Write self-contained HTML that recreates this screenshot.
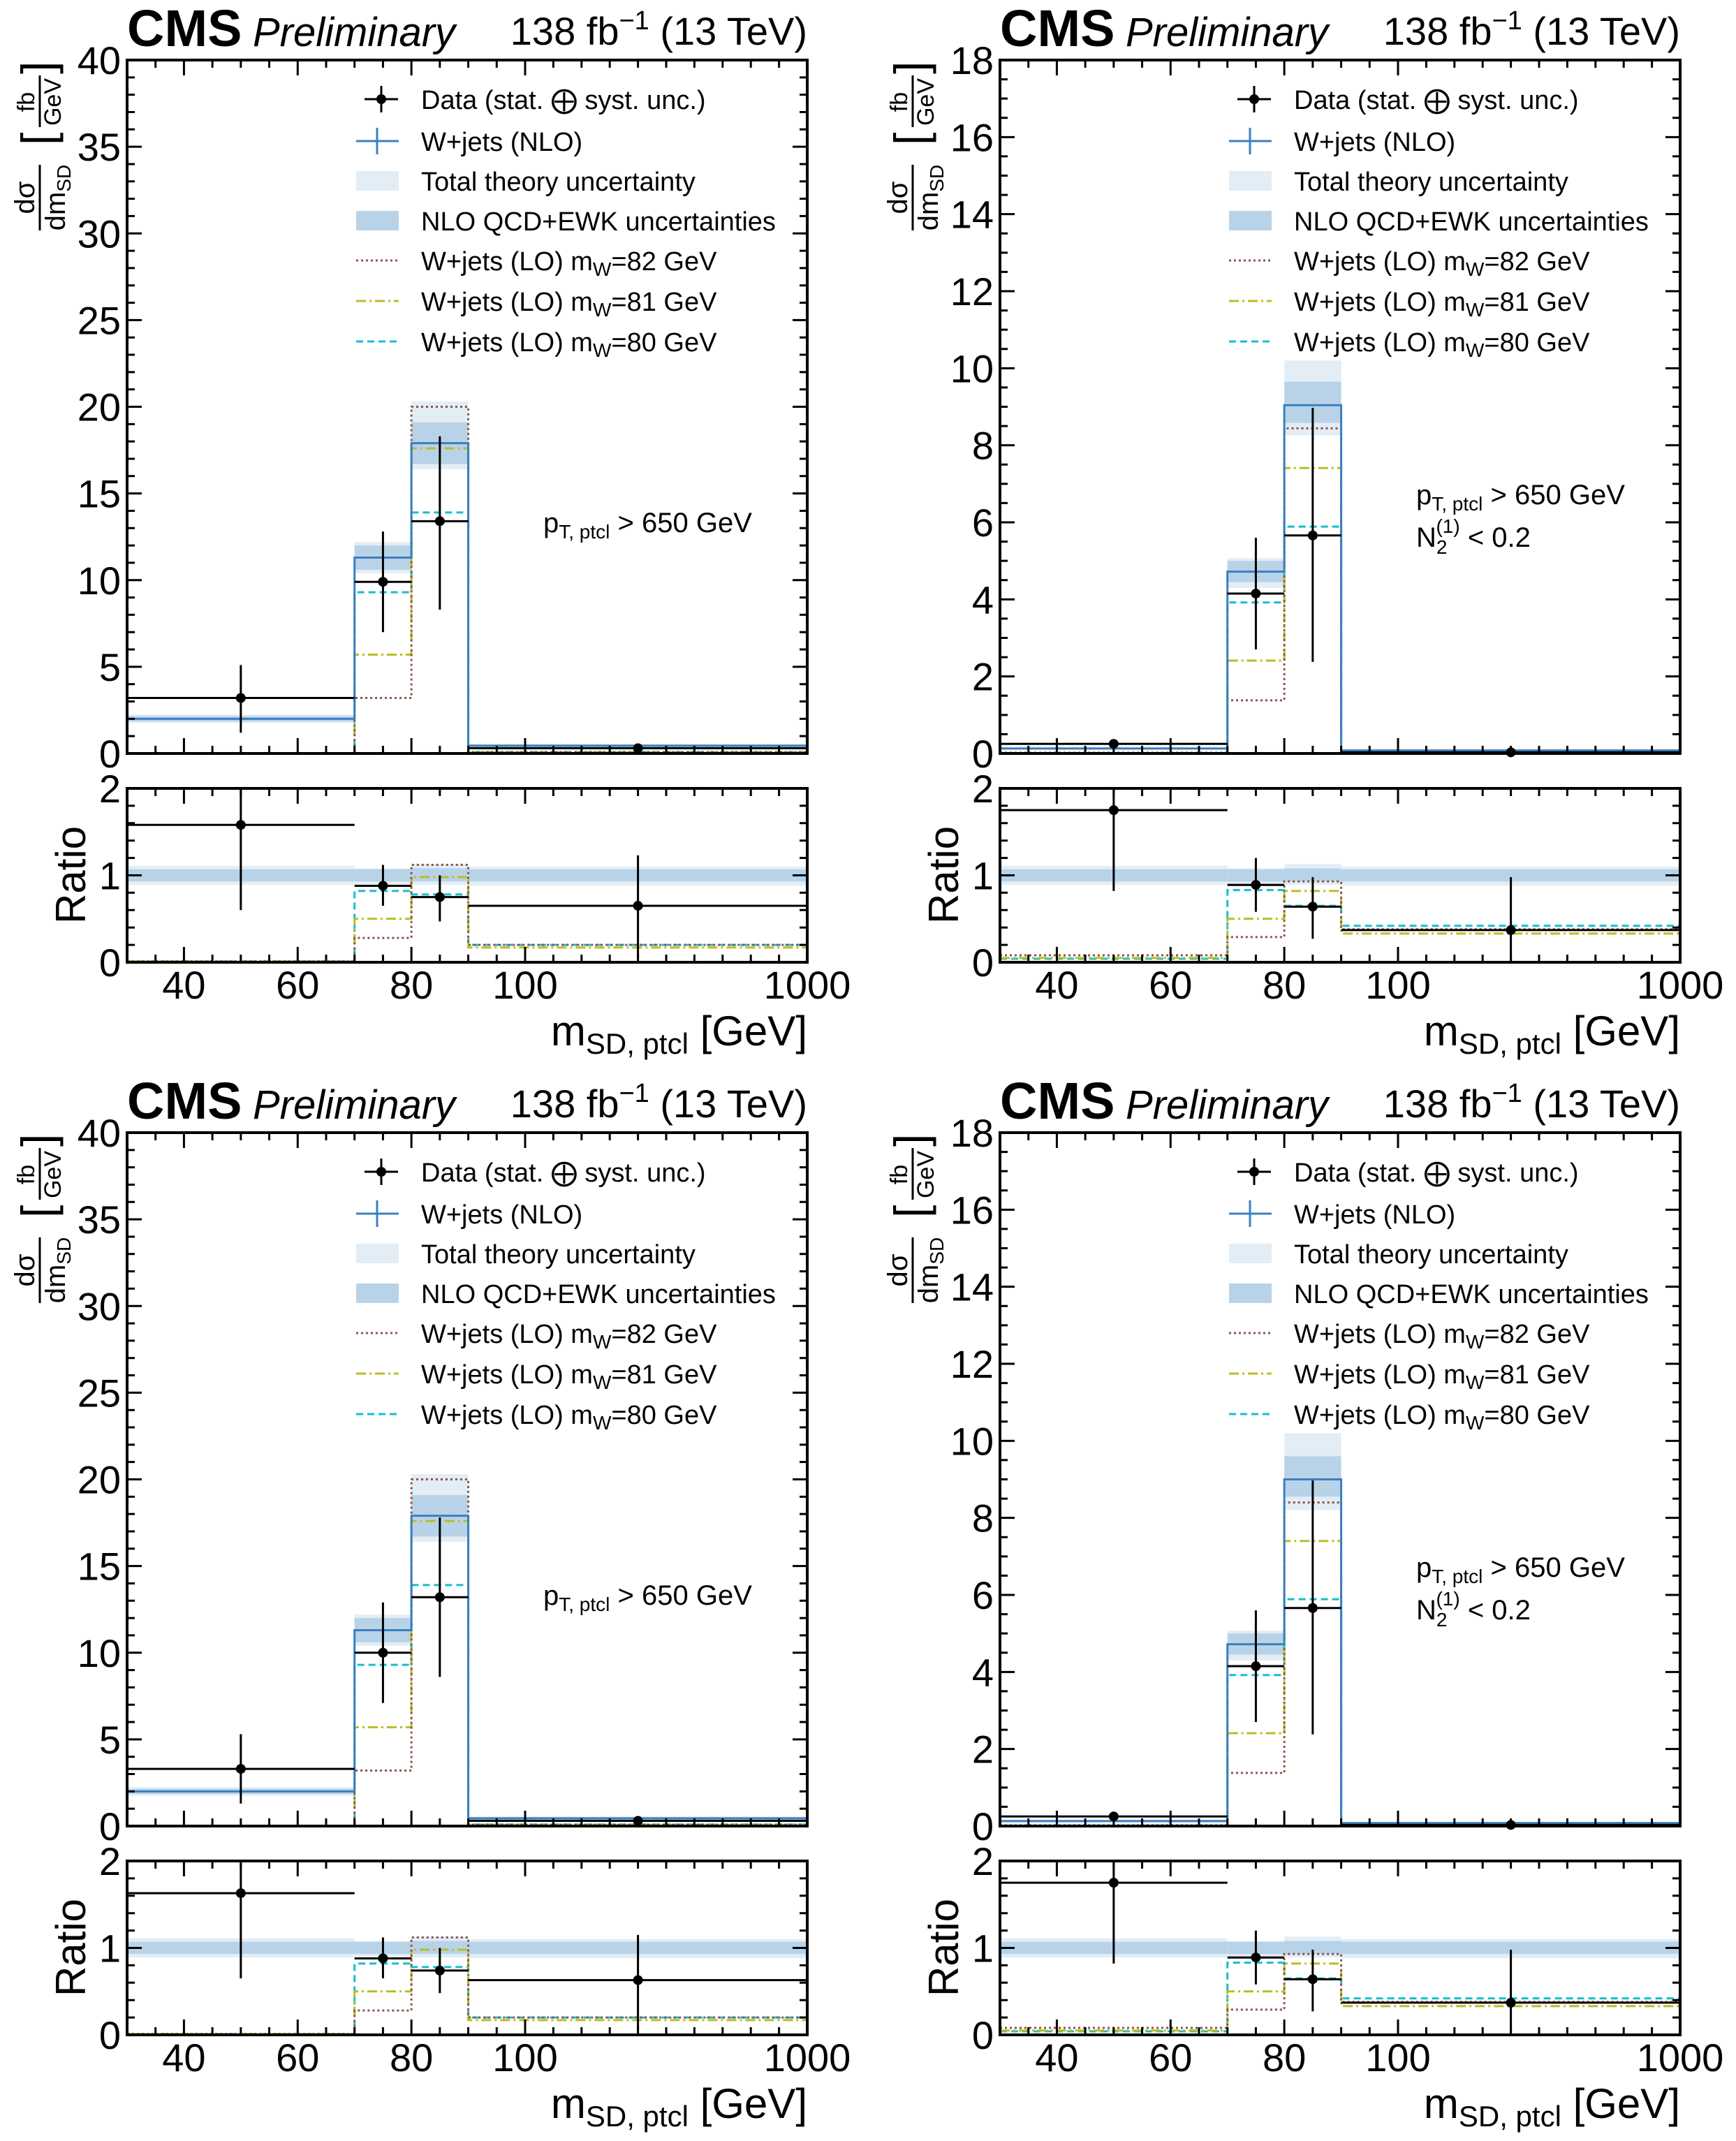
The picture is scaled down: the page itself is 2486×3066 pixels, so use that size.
<!DOCTYPE html>
<html><head><meta charset="utf-8">
<style>
html,body{margin:0;padding:0;background:#fff;}
svg{display:block;font-family:"Liberation Sans",Arial,sans-serif;}
</style></head>
<body>
<svg id="fig" xmlns="http://www.w3.org/2000/svg" width="2486" height="3066" viewBox="0 0 2486 3066"></svg>
<script>
// ---- shared binning ----
const binEdges = [30, 70, 80, 90, 1000];
const dataX = [50, 75, 85, 460];
const xTickVals = [40, 60, 80, 100, 1000];
const xTickLabels = ["40", "60", "80", "100", "1000"];

// ---- top-left panel ----
const tlNlo = [2.0, 11.3, 17.9, 0.45];
const tlTotLo = [1.75, 10.4, 16.4, 0.3];
const tlTotHi = [2.25, 12.2, 20.3, 0.55];
const tlQcdLo = [1.85, 10.6, 16.7, 0.35];
const tlQcdHi = [2.15, 12.0, 19.1, 0.5];
const tlLo82 = [0.02, 3.2, 20.0, 0.08];
const tlLo81 = [0.02, 5.7, 17.6, 0.07];
const tlLo80 = [0.02, 9.3, 13.9, 0.09];
const tlData = [3.2, 9.9, 13.4, 0.3];
const tlDataLo = [1.2, 7.0, 8.3, 0.2];
const tlDataHi = [5.1, 12.8, 18.3, 0.4];
const tlR = [1.58, 0.88, 0.75, 0.65];
const tlRLo = [0.6, 0.65, 0.47, 0.05];
const tlRHi = [2.0, 1.12, 1.0, 1.23];
const tlR82 = [0.01, 0.28, 1.12, 0.2];
const tlR81 = [0.01, 0.5, 0.98, 0.17];
const tlR80 = [0.01, 0.82, 0.78, 0.2];

// ---- top-right panel ----
const trNlo = [0.13, 4.72, 9.04, 0.08];
const trTotLo = [0.1, 4.3, 8.26, 0.05];
const trTotHi = [0.17, 5.07, 10.2, 0.1];
const trQcdLo = [0.11, 4.45, 8.58, 0.06];
const trQcdHi = [0.15, 5.0, 9.65, 0.09];
const trLo82 = [0.02, 1.38, 8.44, 0.03];
const trLo81 = [0.01, 2.41, 7.41, 0.025];
const trLo80 = [0.01, 3.92, 5.89, 0.03];
const trData = [0.25, 4.15, 5.66, 0.03];
const trDataLo = [0.2, 2.7, 2.38, 0.0];
const trDataHi = [0.3, 5.6, 8.97, 0.06];
const trR = [1.75, 0.89, 0.64, 0.37];
const trRLo = [0.82, 0.58, 0.27, 0.0];
const trRHi = [2.0, 1.2, 0.98, 0.98];
const trR82 = [0.08, 0.29, 0.93, 0.38];
const trR81 = [0.05, 0.5, 0.82, 0.33];
const trR80 = [0.04, 0.83, 0.65, 0.42];

// ---- bottom-left panel ----
const blNlo = [2.0, 11.3, 17.9, 0.45];
const blTotLo = [1.75, 10.4, 16.4, 0.3];
const blTotHi = [2.25, 12.2, 20.3, 0.55];
const blQcdLo = [1.85, 10.6, 16.7, 0.35];
const blQcdHi = [2.15, 12.0, 19.1, 0.5];
const blLo82 = [0.02, 3.2, 20.0, 0.08];
const blLo81 = [0.02, 5.7, 17.6, 0.07];
const blLo80 = [0.02, 9.3, 13.9, 0.09];
const blData = [3.3, 10.0, 13.2, 0.3];
const blDataLo = [1.3, 7.1, 8.6, 0.2];
const blDataHi = [5.3, 12.9, 17.8, 0.4];
const blR = [1.63, 0.88, 0.74, 0.63];
const blRLo = [0.65, 0.65, 0.48, 0.05];
const blRHi = [2.0, 1.12, 1.0, 1.15];
const blR82 = [0.01, 0.28, 1.12, 0.2];
const blR81 = [0.01, 0.5, 0.98, 0.17];
const blR80 = [0.01, 0.82, 0.78, 0.2];

// ---- bottom-right panel ----
const brNlo = [0.13, 4.72, 9.0, 0.08];
const brTotLo = [0.1, 4.3, 8.2, 0.05];
const brTotHi = [0.17, 5.07, 10.2, 0.1];
const brQcdLo = [0.11, 4.45, 8.55, 0.06];
const brQcdHi = [0.15, 5.0, 9.6, 0.09];
const brLo82 = [0.02, 1.38, 8.4, 0.03];
const brLo81 = [0.01, 2.41, 7.4, 0.025];
const brLo80 = [0.01, 3.92, 5.89, 0.03];
const brData = [0.25, 4.15, 5.66, 0.03];
const brDataLo = [0.2, 2.7, 2.38, 0.0];
const brDataHi = [0.3, 5.6, 8.97, 0.06];
const brR = [1.75, 0.89, 0.64, 0.37];
const brRLo = [0.82, 0.58, 0.27, 0.0];
const brRHi = [2.0, 1.2, 0.98, 0.98];
const brR82 = [0.08, 0.29, 0.93, 0.38];
const brR81 = [0.05, 0.5, 0.82, 0.33];
const brR80 = [0.04, 0.83, 0.65, 0.42];

// ratio bands (shared)
const rTotLo = [0.89, 0.9, 0.89, 0.88];
const rTotHi = [1.11, 1.08, 1.13, 1.1];
const rQcdLo = [0.93, 0.93, 0.93, 0.93];
const rQcdHi = [1.07, 1.07, 1.08, 1.07];

const NS = "http://www.w3.org/2000/svg";
const svg = document.getElementById("fig");
function mk(tag, attrs, parent) {
  const e = document.createElementNS(NS, tag);
  for (const k in attrs) e.setAttribute(k, attrs[k]);
  (parent || svg).appendChild(e);
  return e;
}
const C_NLO = "#3b7fbf", C_TOT = "#e3edf6", C_QCD = "#b8d3e8";
const C82 = "#8c564b", C81 = "#bcbd22", C80 = "#17becf";

function panel(ox, oy, d, ymax, ymajor, yminor, twoLine, key) {
  const L = ox + 182, R = ox + 1156, T = oy + 86, B = oy + 1079;
  const RT = oy + 1129, RB = oy + 1378;
  const g = mk("g", {});
  
  
  function xm(v) { return v <= 100 ? L + (v - 30) * (570 / 70) : L + 570 + (v - 100) / 900 * 404; }
  function ym(v) { return B - v * (B - T) / ymax; }
  function yr(v) { return RB - v * (RB - RT) / 2; }

  for (let i = 0; i < 4; i++) {
    const x0 = xm(binEdges[i]), x1 = xm(binEdges[i + 1]);
    const a = mk("rect", {x: x0, y: ym(d.totHi[i]), width: x1 - x0, height: ym(d.totLo[i]) - ym(d.totHi[i]), fill: C_TOT}, g);
    
    
    const b = mk("rect", {x: x0, y: ym(d.qcdHi[i]), width: x1 - x0, height: ym(d.qcdLo[i]) - ym(d.qcdHi[i]), fill: C_QCD}, g);
    
    
    const c = mk("rect", {x: x0, y: yr(rTotHi[i]), width: x1 - x0, height: yr(rTotLo[i]) - yr(rTotHi[i]), fill: C_TOT}, g);
    
    
    const e = mk("rect", {x: x0, y: yr(rQcdHi[i]), width: x1 - x0, height: yr(rQcdLo[i]) - yr(rQcdHi[i]), fill: C_QCD}, g);
    
    
  }
  function step(vals, map, color, dash, name) {
    let p = "M" + xm(binEdges[0]) + "," + map(vals[0]);
    for (let i = 0; i < 4; i++) {
      p += " L" + xm(binEdges[i + 1]) + "," + map(vals[i]);
      if (i < 3) p += " L" + xm(binEdges[i + 1]) + "," + map(vals[i + 1]);
    }
    const s = mk("path", {d: p, fill: "none", stroke: color, "stroke-width": 3, "stroke-dasharray": dash || "none"}, g);
    
    
  }
  step(d.lo80, ym, C80, "10,6", "lo-80-line");
  step(d.lo81, ym, C81, "14,5,3,5", "lo-81-line");
  step(d.lo82, ym, C82, "3,4", "lo-82-line");
  step(d.nlo, ym, C_NLO, null, "nlo-line");
  step(d.r80, yr, C80, "10,6", "ratio-lo-80-line");
  step(d.r81, yr, C81, "14,5,3,5", "ratio-lo-81-line");
  step(d.r82, yr, C82, "3,4", "ratio-lo-82-line");

  function points(vals, lo, hi, map, name) {
    for (let i = 0; i < 4; i++) {
      const cx = xm(dataX[i]);
      const h = mk("line", {x1: xm(binEdges[i]), x2: xm(binEdges[i + 1]), y1: map(vals[i]), y2: map(vals[i]), stroke: "#000", "stroke-width": 3}, g);
      
      
      const v = mk("line", {x1: cx, x2: cx, y1: map(Math.min(hi[i], 2.05 * (map === yr ? 1 : 100))), y2: map(lo[i]), stroke: "#000", "stroke-width": 3}, g);
      
      
      const c = mk("circle", {cx: cx, cy: map(vals[i]), r: 7, fill: "#000"}, g);
      
      
    }
  }
  points(d.data, d.dataLo, d.dataHi, ym, "data");
  points(d.r, d.rLo, d.rHi, yr, "ratio-data");

  function frame(top, bot, vmax, major, minor, map, nm) {
    const f = mk("rect", {x: L, y: top, width: R - L, height: bot - top, fill: "none", stroke: "#000", "stroke-width": 4}, g);
    
    
    let p = "";
    for (let v = 0; v <= vmax + 1e-9; v += minor) {
      const isMaj = Math.abs(v / major - Math.round(v / major)) < 1e-6;
      const len = isMaj ? 21 : 11, y = map(v);
      p += `M${L},${y}h${len}M${R},${y}h${-len}`;
      if (isMaj) {
        const t = mk("text", {x: L - 9, y: y + 20, "font-size": 56, "text-anchor": "end"}, g);
        
        
        t.textContent = String(Math.round(v * 10) / 10);
      }
    }
    for (let v = 35; v <= 100; v += 5) {
      const isMaj = v % 20 === 0;
      const len = isMaj ? 22 : 11, x = xm(v);
      p += `M${x},${bot}v${-len}M${x},${top}v${len}`;
    }
    for (let x = L + 570 + 40.4; x < R - 5; x += 40.4) p += `M${x},${bot}v-11M${x},${top}v11`;
    const tk = mk("path", {d: p, stroke: "#000", "stroke-width": 3, fill: "none"}, g);
    
    
  }
  frame(T, B, ymax, ymajor, yminor, ym, "main");
  frame(RT, RB, 2, 1, 0.2, yr, "ratio");

  for (let i = 0; i < xTickVals.length; i++) {
    const t = mk("text", {x: xm(xTickVals[i]), y: oy + 1430, "font-size": 56, "text-anchor": "middle"}, g);
    
    
    t.textContent = xTickLabels[i];
  }
  const xt = mk("text", {x: R, y: oy + 1497, "font-size": 60, "text-anchor": "end"}, g);
  
  
  xt.innerHTML = 'm<tspan font-size="42" dy="12">SD, ptcl</tspan><tspan dy="-12"> [GeV]</tspan>';
  const rt = mk("text", {transform: `translate(${ox + 122},${oy + 1253}) rotate(-90)`, "font-size": 60, "text-anchor": "middle"}, g);
  
  
  rt.textContent = "Ratio";
  const yg = mk("g", {transform: `translate(${ox + 55},${oy + 208}) rotate(-90)`, "font-size": 40}, g);
  
  
  mk("text", {x: -75, y: -6, "text-anchor": "middle"}, yg).textContent = "dσ";
  mk("line", {x1: -122, x2: -28, y1: 2, y2: 2, stroke: "#000", "stroke-width": 3}, yg);
  const dm = mk("text", {x: -75, y: 38, "text-anchor": "middle"}, yg);
  dm.innerHTML = 'dm<tspan font-size="28" dy="8">SD</tspan>';
  mk("text", {x: 0, y: 22, "font-size": 66}, yg).textContent = "[";
  mk("text", {x: 62, y: -6, "text-anchor": "middle", "font-size": 34}, yg).textContent = "fb";
  mk("line", {x1: 26, x2: 100, y1: 2, y2: 2, stroke: "#000", "stroke-width": 3}, yg);
  mk("text", {x: 62, y: 32, "text-anchor": "middle", "font-size": 34}, yg).textContent = "GeV";
  mk("text", {x: 102, y: 22, "font-size": 66}, yg).textContent = "]";

  const cms = mk("text", {x: ox + 182, y: oy + 66, "font-size": 74, "font-weight": "bold"}, g);
  
  
  cms.textContent = "CMS";
  const pre = mk("text", {x: ox + 362, y: oy + 66, "font-size": 58, "font-style": "italic"}, g);
  
  
  pre.textContent = "Preliminary";
  const lumi = mk("text", {x: ox + 1156, y: oy + 64, "font-size": 56, "text-anchor": "end"}, g);
  
  
  lumi.innerHTML = '138 fb<tspan font-size="38" dy="-22">−1</tspan><tspan dy="22"> (13 TeV)</tspan>';

  const an = mk("text", {x: ox + 778, y: oy + (twoLine ? 722 : 762), "font-size": 40}, g);
  
  
  an.innerHTML = 'p<tspan font-size="28" dy="9">T, ptcl</tspan><tspan dy="-9"> &gt; 650 GeV</tspan>';
  if (twoLine) {
    const an2 = mk("text", {x: ox + 778, y: oy + 783, "font-size": 40}, g);
    
    
    an2.innerHTML = 'N<tspan font-size="28" dy="10">2</tspan><tspan font-size="28" dx="-16" dy="-30">(1)</tspan><tspan dy="20"> &lt; 0.2</tspan>';
  }

  const lx = ox + 510, tx = ox + 603;
  const rows = [142, 202, 259, 316, 373, 431, 489];
  const labels = ['Data (stat. ⨁ syst. unc.)', 'W+jets (NLO)', 'Total theory uncertainty', 'NLO QCD+EWK uncertainties',
    'W+jets (LO) m<tspan font-size="28" dy="8">W</tspan><tspan dy="-8">=82 GeV</tspan>',
    'W+jets (LO) m<tspan font-size="28" dy="8">W</tspan><tspan dy="-8">=81 GeV</tspan>',
    'W+jets (LO) m<tspan font-size="28" dy="8">W</tspan><tspan dy="-8">=80 GeV</tspan>'];
  for (let i = 0; i < 7; i++) {
    const y = oy + rows[i];
    const lg = mk("g", {}, g);
    
    
    if (i === 0) {
      mk("line", {x1: lx + 12, x2: lx + 60, y1: y, y2: y, stroke: "#000", "stroke-width": 3}, lg);
      mk("line", {x1: lx + 36, x2: lx + 36, y1: y - 19, y2: y + 19, stroke: "#000", "stroke-width": 3}, lg);
      mk("circle", {cx: lx + 36, cy: y, r: 7, fill: "#000"}, lg);
    } else if (i === 1) {
      mk("line", {x1: lx, x2: lx + 61, y1: y, y2: y, stroke: C_NLO, "stroke-width": 3}, lg);
      mk("line", {x1: lx + 30, x2: lx + 30, y1: y - 19, y2: y + 19, stroke: C_NLO, "stroke-width": 3}, lg);
    } else if (i === 2) {
      mk("rect", {x: lx, y: y - 14, width: 61, height: 28, fill: C_TOT}, lg);
    } else if (i === 3) {
      mk("rect", {x: lx, y: y - 14, width: 61, height: 28, fill: C_QCD}, lg);
    } else {
      const col = [C82, C81, C80][i - 4], da = ["3,4", "14,5,3,5", "10,6"][i - 4];
      mk("line", {x1: lx, x2: lx + 61, y1: y, y2: y, stroke: col, "stroke-width": 3, "stroke-dasharray": da}, lg);
    }
    const t = mk("text", {x: tx, y: y + 14, "font-size": 38}, lg);
    t.innerHTML = labels[i];
  }
}

panel(0, 0, {nlo: tlNlo, totLo: tlTotLo, totHi: tlTotHi, qcdLo: tlQcdLo, qcdHi: tlQcdHi, lo82: tlLo82, lo81: tlLo81, lo80: tlLo80,
  data: tlData, dataLo: tlDataLo, dataHi: tlDataHi, r: tlR, rLo: tlRLo, rHi: tlRHi, r82: tlR82, r81: tlR81, r80: tlR80}, 40, 5, 1, false, "top-left");
panel(1250, 0, {nlo: trNlo, totLo: trTotLo, totHi: trTotHi, qcdLo: trQcdLo, qcdHi: trQcdHi, lo82: trLo82, lo81: trLo81, lo80: trLo80,
  data: trData, dataLo: trDataLo, dataHi: trDataHi, r: trR, rLo: trRLo, rHi: trRHi, r82: trR82, r81: trR81, r80: trR80}, 18, 2, 0.5, true, "top-right");
panel(0, 1536, {nlo: blNlo, totLo: blTotLo, totHi: blTotHi, qcdLo: blQcdLo, qcdHi: blQcdHi, lo82: blLo82, lo81: blLo81, lo80: blLo80,
  data: blData, dataLo: blDataLo, dataHi: blDataHi, r: blR, rLo: blRLo, rHi: blRHi, r82: blR82, r81: blR81, r80: blR80}, 40, 5, 1, false, "bottom-left");
panel(1250, 1536, {nlo: brNlo, totLo: brTotLo, totHi: brTotHi, qcdLo: brQcdLo, qcdHi: brQcdHi, lo82: brLo82, lo81: brLo81, lo80: brLo80,
  data: brData, dataLo: brDataLo, dataHi: brDataHi, r: brR, rLo: brRLo, rHi: brRHi, r82: brR82, r81: brR81, r80: brR80}, 18, 2, 0.5, true, "bottom-right");
</script>
</body></html>
